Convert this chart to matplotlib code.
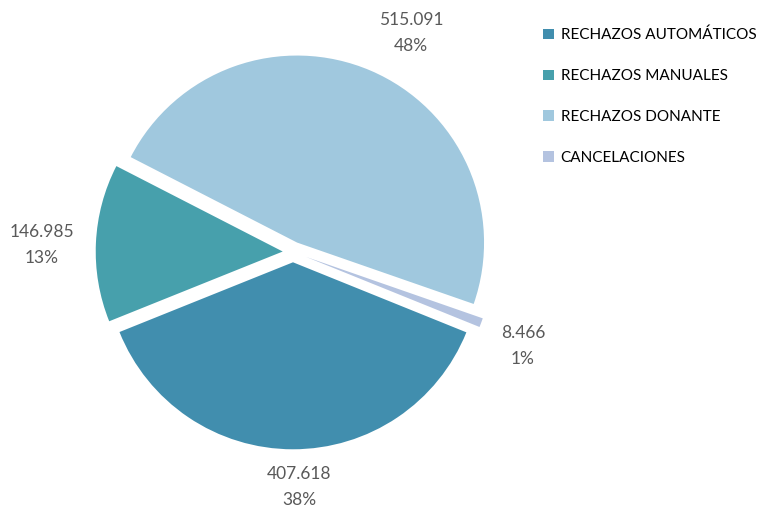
import matplotlib
matplotlib.use("Agg")
import matplotlib.pyplot as plt

categories = ["RECHAZOS AUTOMÁTICOS", "RECHAZOS MANUALES", "RECHAZOS DONANTE", "CANCELACIONES"]
values = [407618, 146985, 515091, 8466]
value_labels = ["407.618", "146.985", "515.091", "8.466"]
pct_labels = ["38%", "13%", "48%", "1%"]

colors = ["#418EAE", "#47A0AC", "#A0C8DE", "#B4C3E0"]
explode = [0.055, 0.055, 0.055, 0.075]

W, H = 764, 511
cx, cy, R = 293, 252, 187  # pixel center / radius

fig = plt.figure(figsize=(W / 100, H / 100), dpi=100)
ax = fig.add_axes([0, 0, 1, 1])
wedges, _ = ax.pie(values, colors=colors, explode=explode, startangle=-22,
                   counterclock=False, radius=1,
                   wedgeprops=dict(linewidth=0))
ax.set_xlim(-cx / R, (W - cx) / R)
ax.set_ylim(-(H - cy) / R, cy / R)
ax.set_aspect("auto")
ax.axis("off")

# label positions (pixels, top-left origin) for the two-line labels
label_pos = [(299, 487), (42, 245), (411, 33), (523, 346)]
for (px, py), v, p in zip(label_pos, value_labels, pct_labels):
    ax.text((px - cx) / R, (cy - py) / R, f"{v}\n{p}", ha="center", va="center",
            fontsize=12.5, color="#595959", family="Lato", linespacing=1.7)

leg = ax.legend(wedges, categories, loc="upper left",
                bbox_to_anchor=(543 / W, 1 - 28 / H), bbox_transform=fig.transFigure,
                frameon=False, handlelength=0.7, handleheight=0.7, handletextpad=0.45,
                labelspacing=1.75, prop=dict(family="Lato", size=11),
                borderaxespad=0, borderpad=0)
for t in leg.get_texts():
    t.set_color("#000000")

fig.savefig("out.png", dpi=100)
